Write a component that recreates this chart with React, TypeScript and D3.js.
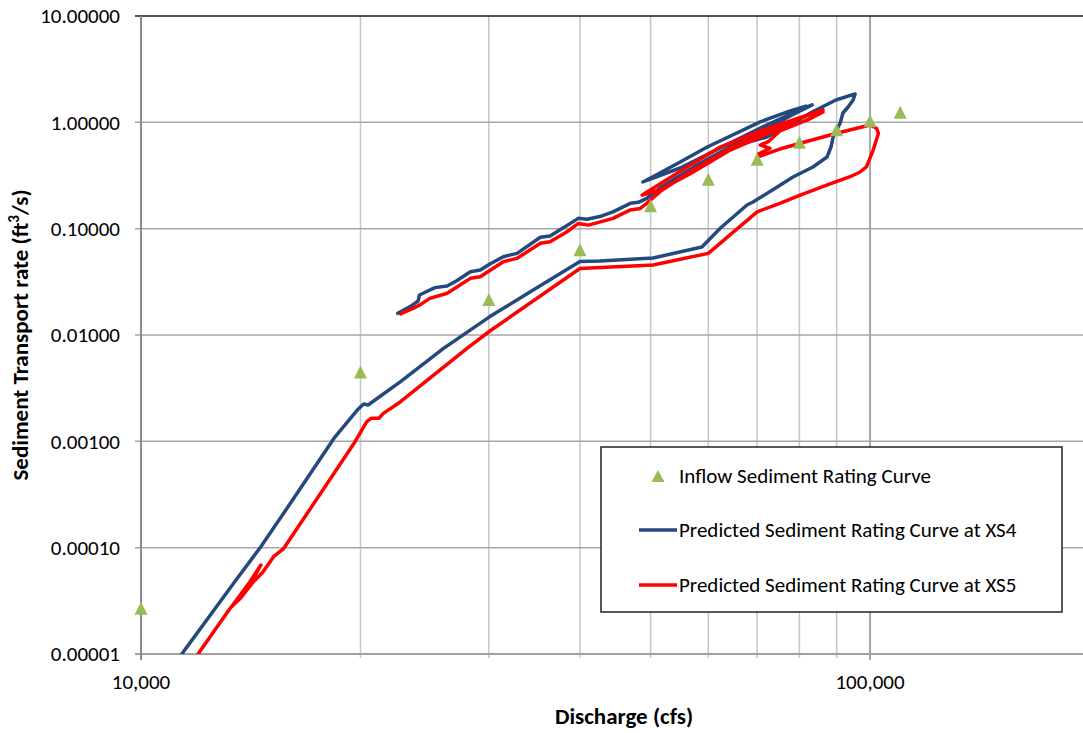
import React from "react";
import * as d3 from "d3";

// Inflow sediment rating curve (markers)
const inflowDischarge = [10000, 20000, 30000, 40000, 50000, 60000, 70000, 80000, 90000, 100000, 110000];
const inflowTransport = [0.0000269, 0.00449, 0.0216, 0.0634, 0.164, 0.292, 0.45, 0.649, 0.853, 1.036, 1.245];

// Predicted sediment rating curve at XS4 (time-ordered, hysteresis loops)
const xs4Discharge = [
  22500, 23400, 24000, 24100, 25300, 26300, 27100, 28300, 29200, 30100,
  31400, 32800, 35300, 36400, 38400, 39800, 40900, 42600, 44400, 46900,
  48100, 49400, 51500, 58500, 68500, 75200, 81700, 77700, 70700, 59800,
  54900, 50900, 48800, 54900, 62300, 70700, 80200, 83300, 77700, 71800,
  67400, 72200, 77700, 83300, 89800, 95400, 94800, 93300, 91800, 91000,
  89000, 88400, 87300, 83500, 78400, 74600, 69100, 67800, 62300, 58800,
  50400, 42600, 40000, 34200, 30100, 26000, 22700, 21100, 20500, 20200,
  19800, 18400, 16200, 14600, 13500, 11400, 11000,
];
const xs4Transport = [
  0.016, 0.0185, 0.0209, 0.0238, 0.0279, 0.0289, 0.0324, 0.0394, 0.0408, 0.0466,
  0.0545, 0.0586, 0.083, 0.0853, 0.107, 0.125, 0.1225, 0.13, 0.144, 0.173,
  0.177, 0.193, 0.241, 0.415, 0.744, 1.05, 1.42, 1.28, 1.01, 0.586,
  0.424, 0.32, 0.275, 0.372, 0.574, 0.885, 1.31, 1.46, 1.15, 0.847,
  0.639, 0.728, 0.944, 1.251, 1.622, 1.85, 1.622, 1.394, 1.224, 0.986,
  0.728, 0.586, 0.472, 0.38, 0.306, 0.2465, 0.178, 0.167, 0.101, 0.0672,
  0.053, 0.0497, 0.0491, 0.0255, 0.0149, 0.00749, 0.00364, 0.00254, 0.0022, 0.00224,
  0.00197, 0.00107, 0.000291, 0.000102, 0.0000496, 0.0000102, 0.0000071,
];

// Predicted sediment rating curve at XS5
const xs5Discharge = [
  22700, 23600, 24100, 24900, 26300, 28300, 29200, 31400, 32800, 35300,
  36400, 38400, 39800, 41100, 44400, 46900, 48400, 49400, 51500, 56600,
  64300, 72200, 80200, 86200, 77700, 70700, 62300, 56100, 51500, 48700,
  51500, 56600, 64300, 72200, 82000, 86200, 80200, 75200, 72500, 70700,
  72900, 70300, 70700, 75200, 80200, 90000, 100000, 102100, 102700, 101000,
  98900, 96900, 93900, 87200, 80200, 75200, 70000, 60000, 50400, 40000,
  30100, 28000, 22700, 21500, 21200, 20700, 20400, 19600, 18400, 16900,
  15700, 15200, 14700, 14200, 13700, 13300, 14100, 14600, 14300, 13200,
  12000, 11700,
];
const xs5Transport = [
  0.0158, 0.0178, 0.0191, 0.0221, 0.0247, 0.0341, 0.0353, 0.0489, 0.0526, 0.0728,
  0.0754, 0.0936, 0.112, 0.108, 0.125, 0.15, 0.155, 0.173, 0.223, 0.341,
  0.574, 0.811, 1.1, 1.31, 1.03, 0.829, 0.586, 0.38, 0.263, 0.207,
  0.231, 0.327, 0.549, 0.777, 1.05, 1.25, 0.986, 0.829, 0.657, 0.612,
  0.57, 0.504, 0.482, 0.561, 0.635, 0.789, 0.944, 0.879, 0.789, 0.549,
  0.383, 0.341, 0.308, 0.257, 0.207, 0.173, 0.144, 0.0586, 0.0455, 0.0422,
  0.0109, 0.00749, 0.00236, 0.00183, 0.00165, 0.00165, 0.00153, 0.000958, 0.0005, 0.00021,
  0.0000986, 0.0000822, 0.000059, 0.0000462, 0.0000336, 0.0000277, 0.0000476, 0.0000687, 0.000053, 0.0000259,
  0.0000102, 0.0000074,
];

// Axis ticks
const yTickValues = [0.00001, 0.0001, 0.001, 0.01, 0.1, 1, 10];
const xMinorGrid = [20000, 30000, 40000, 50000, 60000, 70000, 80000, 90000];
const xMajorTicks = [10000, 100000];

const legendLabels = [
  "Inflow Sediment Rating Curve",
  "Predicted Sediment Rating Curve at XS4",
  "Predicted Sediment Rating Curve at XS5",
];

const FONT = "Calibri, Carlito, Lato, 'Open Sans', sans-serif";
const BLUE = "#24497E";
const RED = "#FF0000";
const GREEN = "#9BBB59";

type Pt = { q: number; s: number };
const zip = (qs: number[], ss: number[]): Pt[] => qs.map((q, i) => ({ q, s: ss[i] }));

export default function App() {
  const width = 1083;
  const height = 733;
  const plot = { left: 141, right: 1089.5, top: 16, bottom: 654 };

  const x = d3.scaleLog().domain([10000, 200000]).range([plot.left, plot.right]);
  const y = d3.scaleLog().domain([0.00001, 10]).range([plot.bottom, plot.top]);

  const line = d3
    .line<Pt>()
    .x((d) => x(d.q))
    .y((d) => y(d.s));

  const xs4 = zip(xs4Discharge, xs4Transport);
  const xs5 = zip(xs5Discharge, xs5Transport);
  const inflow = zip(inflowDischarge, inflowTransport);

  const tri = (cx: number, cy: number, w: number, h: number) =>
    `M${cx},${cy - h / 2}L${cx + w / 2},${cy + h / 2}L${cx - w / 2},${cy + h / 2}Z`;

  const fmtY = (v: number) => v.toFixed(5);
  const fmtX = d3.format(",");

  const legend = { x: 601, y: 447, w: 461, h: 165 };
  const legendRows = [476, 530, 585];

  return (
    <svg
      width={width}
      height={height}
      style={{ position: "absolute", left: 0, top: 0, background: "#fff" }}
      fontFamily={FONT}
    >
      <defs>
        <clipPath id="plot-clip">
          <rect x={plot.left} y={plot.top - 2} width={plot.right - plot.left} height={plot.bottom - plot.top + 2} />
        </clipPath>
      </defs>

      {/* vertical gridlines */}
      {xMinorGrid.map((v) => (
        <line key={"gx" + v} x1={x(v)} x2={x(v)} y1={plot.top} y2={plot.bottom + 4} stroke="#C6C6C6" strokeWidth={1.5} />
      ))}
      <line x1={x(100000)} x2={x(100000)} y1={plot.top} y2={plot.bottom + 6} stroke="#A6A6A6" strokeWidth={2} />

      {/* horizontal gridlines */}
      {yTickValues.slice(1, -1).map((v) => (
        <line key={"gy" + v} x1={plot.left - 6} x2={width} y1={y(v)} y2={y(v)} stroke="#A6A6A6" strokeWidth={1.5} />
      ))}
      <line x1={plot.left - 6} x2={width} y1={y(10)} y2={y(10)} stroke="#1A1A1A" strokeWidth={1.5} />

      {/* axes */}
      <line x1={plot.left - 6} x2={width} y1={plot.bottom} y2={plot.bottom} stroke="#A0A0A0" strokeWidth={2} />
      <line x1={plot.left} x2={plot.left} y1={plot.top} y2={plot.bottom + 6} stroke="#8A8A8A" strokeWidth={2} />

      {/* y tick labels */}
      {yTickValues.map((v) => (
        <text key={"ty" + v} x={120} y={y(v)} dy="0.35em" textAnchor="end" fontSize={21} fill="#000">
          {fmtY(v)}
        </text>
      ))}

      {/* x tick labels */}
      {xMajorTicks.map((v) => (
        <text key={"tx" + v} x={x(v)} y={689} textAnchor="middle" fontSize={21} fill="#000">
          {fmtX(v)}
        </text>
      ))}

      {/* axis titles */}
      <text x={624} y={724} textAnchor="middle" fontSize={23} fontWeight="bold" fill="#000">
        Discharge (cfs)
      </text>
      <text
        transform={`translate(28,335) rotate(-90)`}
        textAnchor="middle"
        fontSize={23}
        fontWeight="bold"
        fill="#000"
      >
        Sediment Transport rate (ft<tspan baselineShift="super" fontSize={15}>3</tspan>/s)
      </text>

      {/* series */}
      <g clipPath="url(#plot-clip)">
        <path d={line(xs4) ?? ""} fill="none" stroke={BLUE} strokeWidth={3.5} strokeLinejoin="round" strokeLinecap="round" />
        <path d={line(xs5) ?? ""} fill="none" stroke={RED} strokeWidth={3.5} strokeLinejoin="round" strokeLinecap="round" />
      </g>
      {inflow.map((d) => (
        <path key={"m" + d.q} d={tri(x(d.q), y(d.s), 13, 13)} fill={GREEN} />
      ))}

      {/* legend */}
      <rect x={legend.x} y={legend.y} width={legend.w} height={legend.h} fill="#fff" stroke="#222" strokeWidth={1.5} />
      <path d={tri(658, legendRows[0], 13, 12)} fill={GREEN} />
      <line x1={639} x2={677} y1={legendRows[1]} y2={legendRows[1]} stroke={BLUE} strokeWidth={3.5} />
      <line x1={639} x2={677} y1={legendRows[2]} y2={legendRows[2]} stroke={RED} strokeWidth={3.5} />
      {legendLabels.map((t, i) => (
        <text key={t} x={679} y={legendRows[i]} dy="0.35em" fontSize={21} fill="#000">
          {t}
        </text>
      ))}
    </svg>
  );
}
